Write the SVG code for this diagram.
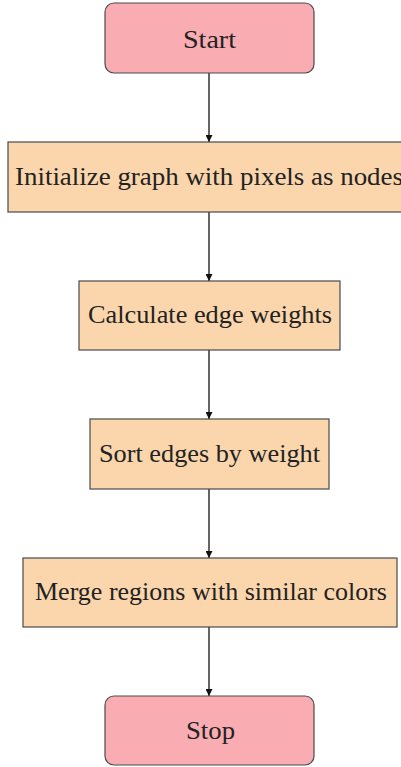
<svg xmlns="http://www.w3.org/2000/svg" width="401" height="767" viewBox="0 0 401 767">
  <style>
    .term { fill: #f9adb3; stroke: #4a4a4a; stroke-width: 1.2; }
    .proc { fill: #fbd6ad; stroke: #4a4a4a; stroke-width: 1.2; }
    .lbl { font-family: "Liberation Serif", "DejaVu Serif", serif; font-size: 25px; fill: #222; text-anchor: middle; dominant-baseline: central; }
    .edge { stroke: #111; stroke-width: 1.3; fill: none; marker-end: url(#arrow); }
  </style>
  <defs>
    <marker id="arrow" viewBox="0 0 10 10" refX="10" refY="5" markerWidth="7" markerHeight="7" markerUnits="userSpaceOnUse" orient="auto">
      <path d="M0,0 L10,5 L0,10 z" fill="#111"/>
    </marker>
  </defs>

  <g id="connectors">
    <line class="edge" x1="209" y1="73" x2="209" y2="142"/>
    <line class="edge" x1="209" y1="212" x2="209" y2="281"/>
    <line class="edge" x1="209" y1="350" x2="209" y2="419"/>
    <line class="edge" x1="209" y1="489" x2="209" y2="558"/>
    <line class="edge" x1="209" y1="627" x2="209" y2="696"/>
  </g>

  <g id="start">
    <rect class="term" x="105" y="3" width="209" height="70" rx="9"/>
    <text class="lbl" x="209.5" y="39" textLength="53" lengthAdjust="spacingAndGlyphs">Start</text>
  </g>

  <g id="init">
    <rect class="proc" x="8" y="142" width="400" height="70"/>
    <text class="lbl" x="209" y="176" textLength="388" lengthAdjust="spacingAndGlyphs">Initialize graph with pixels as nodes</text>
  </g>

  <g id="calc">
    <rect class="proc" x="79" y="281" width="261" height="69"/>
    <text class="lbl" x="210" y="314" textLength="244" lengthAdjust="spacingAndGlyphs">Calculate edge weights</text>
  </g>

  <g id="sort">
    <rect class="proc" x="90" y="419" width="239" height="70"/>
    <text class="lbl" x="209.5" y="453" textLength="221" lengthAdjust="spacingAndGlyphs">Sort edges by weight</text>
  </g>

  <g id="merge">
    <rect class="proc" x="23" y="558" width="374" height="69"/>
    <text class="lbl" x="211" y="591" textLength="352" lengthAdjust="spacingAndGlyphs">Merge regions with similar colors</text>
  </g>

  <g id="stop">
    <rect class="term" x="105" y="696" width="209" height="69" rx="9"/>
    <text class="lbl" x="210.5" y="730" textLength="49" lengthAdjust="spacingAndGlyphs">Stop</text>
  </g>
</svg>
